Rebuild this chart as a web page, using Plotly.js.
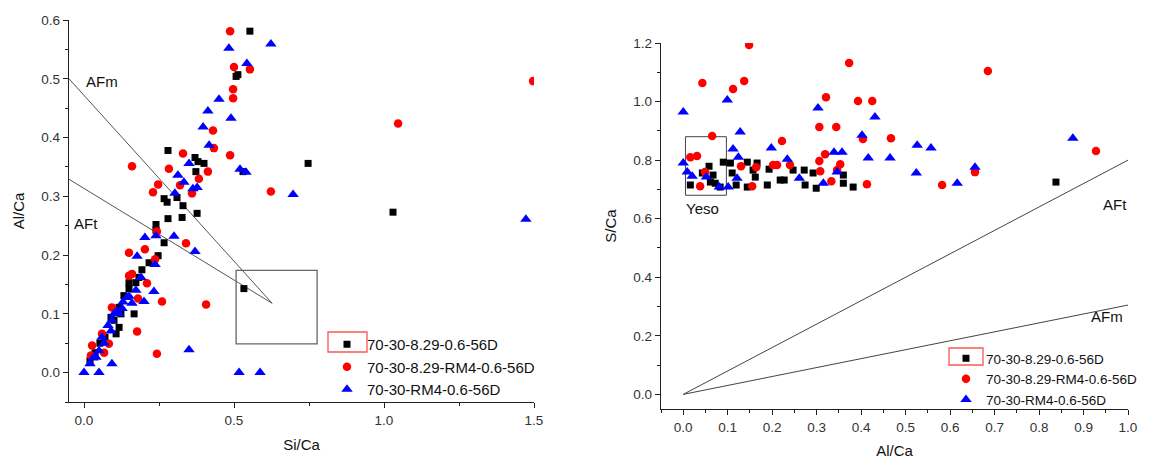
<!DOCTYPE html>
<html>
<head>
<meta charset="utf-8">
<script src="https://cdn.plot.ly/plotly-3.0.1.min.js"></script>
<style>html,body{margin:0;padding:0;background:#fff;}#chart{width:1156px;height:459px;}</style>
</head>
<body>
<div id="chart"></div>
<script>
// ---------- data ----------
const seriesNames = ["70-30-8.29-0.6-56D", "70-30-8.29-RM4-0.6-56D", "70-30-RM4-0.6-56D"];

// Left panel: Si/Ca (x) vs Al/Ca (y)
const leftBlackX = [0.553,0.507,0.513,0.28,0.37,0.38,0.40,0.373,0.53,0.747,1.03,0.533,0.267,0.277,0.31,0.33,0.28,0.327,0.377,0.24,0.24,0.267,0.247,0.217,0.193,0.183,0.173,0.15,0.133,0.167,0.123,0.117,0.107,0.09,0.02,0.037,0.053,0.07,0.1,0.117,0.15];
const leftBlackY = [0.581,0.504,0.507,0.378,0.366,0.359,0.356,0.342,0.342,0.356,0.273,0.143,0.296,0.290,0.298,0.284,0.262,0.264,0.271,0.252,0.242,0.221,0.199,0.187,0.175,0.162,0.153,0.143,0.131,0.10,0.10,0.077,0.066,0.094,0.02,0.034,0.05,0.06,0.089,0.111,0.153];

const leftRedX = [0.487,0.5,0.553,0.497,0.497,0.43,0.433,0.487,0.33,0.283,0.413,0.383,0.247,0.23,0.36,0.623,0.16,1.047,1.497,0.32,0.243,0.34,0.203,0.15,0.237,0.15,0.16,0.21,0.26,0.407,0.177,0.243,0.093,0.18,0.06,0.083,0.027,0.023,0.067];
const leftRedY = [0.581,0.52,0.516,0.482,0.467,0.412,0.382,0.37,0.373,0.347,0.342,0.33,0.32,0.307,0.305,0.308,0.351,0.424,0.496,0.319,0.24,0.22,0.21,0.204,0.193,0.165,0.168,0.152,0.121,0.116,0.07,0.032,0.111,0.126,0.066,0.049,0.046,0.029,0.034];

const leftBlueX = [0.567,0.623,0.483,0.543,0.45,0.49,0.413,0.397,0.417,0.35,0.52,0.54,0.313,0.333,0.363,0.377,0.303,0.697,1.473,0.203,0.24,0.3,0.37,0.177,0.237,0.19,0.233,0.173,0.143,0.2,0.16,0.127,0.117,0.093,0.09,0.067,0.05,0.04,0.093,0.0,0.05,0.35,0.517,0.587,0.02,0.03,0.06,0.08,0.1,0.11,0.13,0.15];
const leftBlueY = [0.607,0.559,0.552,0.526,0.465,0.433,0.445,0.418,0.387,0.356,0.346,0.341,0.336,0.324,0.313,0.315,0.305,0.303,0.261,0.23,0.233,0.232,0.206,0.198,0.184,0.162,0.138,0.14,0.128,0.121,0.118,0.109,0.1,0.089,0.071,0.05,0.037,0.026,0.015,0.0,0.0,0.039,0.0,0.0,0.015,0.025,0.06,0.08,0.1,0.105,0.12,0.13];

// Right panel: Al/Ca (x) vs S/Ca (y)
const rightBlackX = [0.016,0.043,0.058,0.067,0.061,0.09,0.106,0.11,0.119,0.144,0.166,0.144,0.162,0.193,0.189,0.218,0.227,0.247,0.272,0.274,0.292,0.299,0.36,0.36,0.382,0.083,0.838,0.072,0.157];
const rightBlackY = [0.715,0.756,0.779,0.749,0.725,0.793,0.79,0.756,0.715,0.793,0.79,0.708,0.742,0.769,0.715,0.732,0.732,0.766,0.766,0.715,0.756,0.704,0.749,0.721,0.708,0.708,0.725,0.721,0.766];

const rightRedX = [0.148,0.043,0.137,0.112,0.373,0.321,0.393,0.425,0.306,0.344,0.467,0.404,0.065,0.222,0.016,0.031,0.319,0.306,0.353,0.308,0.333,0.413,0.13,0.164,0.202,0.211,0.24,0.049,0.038,0.155,0.346,0.685,0.582,0.656,0.928];
const rightRedY = [1.193,1.063,1.07,1.043,1.132,1.015,1.002,1.002,0.913,0.913,0.875,0.872,0.882,0.865,0.81,0.814,0.82,0.797,0.786,0.762,0.728,0.718,0.779,0.776,0.783,0.783,0.783,0.759,0.711,0.711,0.766,1.104,0.715,0.759,0.831];

const rightBlueX = [0.0,0.099,0.128,0.303,0.431,0.402,0.198,0.112,0.339,0.357,0.465,0.416,0.124,0.234,0.0,0.009,0.02,0.052,0.081,0.101,0.121,0.261,0.315,0.346,0.526,0.557,0.524,0.616,0.656,0.876];
const rightBlueY = [0.964,1.005,0.896,0.978,0.947,0.885,0.841,0.838,0.827,0.827,0.807,0.807,0.81,0.803,0.79,0.759,0.745,0.742,0.708,0.708,0.738,0.738,0.721,0.759,0.851,0.841,0.756,0.721,0.776,0.875];

// Reference lines / boxes (data coordinates)
const leftAFmLine = {x: [-0.05, 0.627], y: [0.5, 0.118]};
const leftAFtLine = {x: [-0.05, 0.627], y: [0.329, 0.118]};
const leftBox = {x: [0.507, 0.777], y: [0.049, 0.174]};
const rightAFtLine = {x: [0, 1.0], y: [0, 0.8]};
const rightAFmLine = {x: [0, 1.0], y: [0, 0.305]};
const rightYesoBox = {x: [0.005, 0.097], y: [0.68, 0.88]};

const leftTicksX = [0, 0.5, 1.0, 1.5];
const leftTickTextX = ["0.0", "0.5", "1.0", "1.5"];
const leftTicksY = [0, 0.1, 0.2, 0.3, 0.4, 0.5, 0.6];
const leftTickTextY = ["0.0", "0.1", "0.2", "0.3", "0.4", "0.5", "0.6"];
const rightTicksX = [0,0.1,0.2,0.3,0.4,0.5,0.6,0.7,0.8,0.9,1.0];
const rightTickTextX = ["0.0","0.1","0.2","0.3","0.4","0.5","0.6","0.7","0.8","0.9","1.0"];
const rightTicksY = [0,0.2,0.4,0.6,0.8,1.0,1.2];
const rightTickTextY = ["0.0","0.2","0.4","0.6","0.8","1.0","1.2"];

// ---------- styling ----------
const FONT = "Liberation Sans, Arial, sans-serif";
const styles = [
  {symbol: "square", color: "#000000", size: 7},
  {symbol: "circle", color: "#ff0000", size: 8.5},
  {symbol: "triangle-up", color: "#0000ff", size: 10}
];

function mk(x, y, i, xa, ya, leg) {
  return {
    type: "scatter", mode: "markers", x: x, y: y, name: seriesNames[i],
    xaxis: xa, yaxis: ya, legend: leg,
    marker: {symbol: styles[i].symbol, color: styles[i].color, size: styles[i].size, line: {width: 0}},
    hoverinfo: "x+y"
  };
}

const data = [
  mk(leftBlackX, leftBlackY, 0, "x", "y", "legend"),
  mk(leftRedX, leftRedY, 1, "x", "y", "legend"),
  mk(leftBlueX, leftBlueY, 2, "x", "y", "legend"),
  mk(rightBlackX, rightBlackY, 0, "x2", "y2", "legend2"),
  mk(rightRedX, rightRedY, 1, "x2", "y2", "legend2"),
  mk(rightBlueX, rightBlueY, 2, "x2", "y2", "legend2")
];

function lineShape(l, xr, yr, color, w) {
  return {type: "line", xref: xr, yref: yr, x0: l.x[0], y0: l.y[0], x1: l.x[1], y1: l.y[1],
          line: {color: color, width: w}, layer: "below"};
}
function boxShape(b, xr, yr, color, w) {
  return {type: "rect", xref: xr, yref: yr, x0: b.x[0], y0: b.y[0], x1: b.x[1], y1: b.y[1],
          line: {color: color, width: w}, fillcolor: "rgba(0,0,0,0)", layer: "below"};
}

const W = 1156, H = 459;
function px(v) { return v / W; }
function py(v) { return 1 - v / H; }

const axisCommon = {
  showline: true, linecolor: "#222", linewidth: 1.3, ticks: "outside", ticklen: 5, tickwidth: 1,
  tickcolor: "#222", showgrid: false, zeroline: false, mirror: false, automargin: false,
  tickfont: {family: FONT, size: 13.5, color: "#333"}
};

const layout = {
  width: W, height: H,
  margin: {l: 0, r: 0, t: 0, b: 0},
  paper_bgcolor: "#fff", plot_bgcolor: "#fff",
  font: {family: FONT, color: "#111"},
  xaxis: Object.assign({}, axisCommon, {
    domain: [px(69), px(534)], range: [-0.05, 1.5], anchor: "y",
    tickvals: leftTicksX, ticktext: leftTickTextX,
    minor: {dtick: 0.25, tick0: 0, ticks: "outside", ticklen: 3, tickcolor: "#222"},
    title: {text: "Si/Ca", font: {family: FONT, size: 15, color: "#111"}, standoff: 13}
  }),
  yaxis: Object.assign({}, axisCommon, {
    domain: [py(402), py(20)], range: [-0.05, 0.6], anchor: "x",
    tickvals: leftTicksY, ticktext: leftTickTextY,
    minor: {dtick: 0.05, tick0: 0, ticks: "outside", ticklen: 3, tickcolor: "#222"},
    title: {text: "Al/Ca", font: {family: FONT, size: 15, color: "#111"}, standoff: 13}
  }),
  xaxis2: Object.assign({}, axisCommon, {
    domain: [px(661), px(1128)], range: [-0.05, 1.0], anchor: "y2",
    tickvals: rightTicksX, ticktext: rightTickTextX,
    minor: {dtick: 0.05, tick0: 0, ticks: "outside", ticklen: 3, tickcolor: "#222"},
    title: {text: "Al/Ca", font: {family: FONT, size: 15, color: "#111"}, standoff: 13}
  }),
  yaxis2: Object.assign({}, axisCommon, {
    domain: [py(409), py(43)], range: [-0.05, 1.2], anchor: "x2",
    tickvals: rightTicksY, ticktext: rightTickTextY,
    minor: {dtick: 0.1, tick0: 0, ticks: "outside", ticklen: 3, tickcolor: "#222"},
    title: {text: "S/Ca", font: {family: FONT, size: 15, color: "#111"}, standoff: 13}
  }),
  legend: {
    x: px(327), y: py(328), xanchor: "left", yanchor: "top",
    bgcolor: "rgba(0,0,0,0)", borderwidth: 0, tracegroupgap: 0,
    font: {family: FONT, size: 15, color: "#111"}
  },
  legend2: {
    x: px(946), y: py(343), xanchor: "left", yanchor: "top",
    bgcolor: "rgba(0,0,0,0)", borderwidth: 0, tracegroupgap: 0,
    font: {family: FONT, size: 13.5, color: "#111"}
  },
  shapes: [
    lineShape(leftAFmLine, "x", "y", "#555", 1),
    lineShape(leftAFtLine, "x", "y", "#555", 1),
    boxShape(leftBox, "x", "y", "#666", 1.3),
    lineShape(rightAFtLine, "x2", "y2", "#444", 1),
    lineShape(rightAFmLine, "x2", "y2", "#444", 1),
    boxShape(rightYesoBox, "x2", "y2", "#444", 1),
    // red highlight frames around first legend symbols
    {type: "rect", xref: "paper", yref: "paper", x0: px(328), x1: px(367), y0: py(352), y1: py(332),
     line: {color: "#ff5555", width: 1.3}, fillcolor: "rgba(0,0,0,0)"},
    {type: "rect", xref: "paper", yref: "paper", x0: px(949), x1: px(983), y0: py(365), y1: py(348),
     line: {color: "#ff5555", width: 1.3}, fillcolor: "rgba(0,0,0,0)"}
  ],
  annotations: [
    {text: "AFm", xref: "x", yref: "y", x: 0.06, y: 0.496, showarrow: false, font: {family: FONT, size: 15, color: "#111"}},
    {text: "AFt", xref: "x", yref: "y", x: 0.007, y: 0.254, showarrow: false, font: {family: FONT, size: 15, color: "#111"}},
    {text: "Yeso", xref: "x2", yref: "y2", x: 0.043, y: 0.636, showarrow: false, font: {family: FONT, size: 15, color: "#111"}},
    {text: "AFt", xref: "x2", yref: "y2", x: 0.971, y: 0.65, showarrow: false, font: {family: FONT, size: 15, color: "#111"}},
    {text: "AFm", xref: "x2", yref: "y2", x: 0.953, y: 0.267, showarrow: false, font: {family: FONT, size: 15, color: "#111"}}
  ],
  showlegend: true,
  hovermode: "closest"
};

Plotly.newPlot("chart", data, layout, {displayModeBar: false, staticPlot: true});
</script>
</body>
</html>
